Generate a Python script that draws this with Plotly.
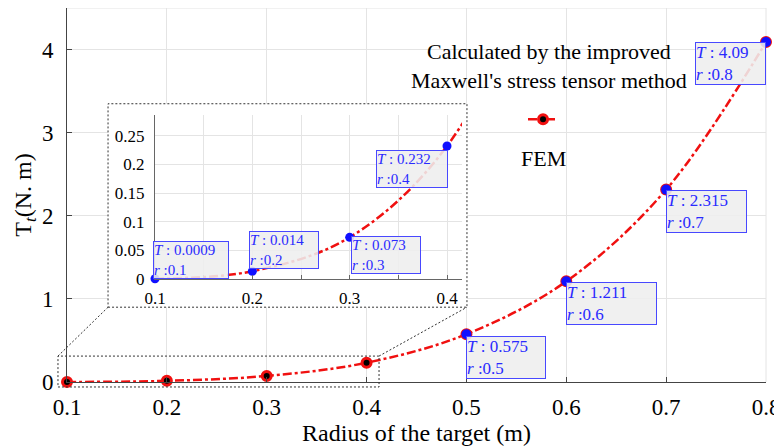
import plotly.graph_objects as go

# ---------------- data ----------------
radius = [0.1, 0.2, 0.3, 0.4, 0.5, 0.6, 0.7, 0.8]
torque = [0.0009, 0.014, 0.073, 0.232, 0.575, 1.211, 2.315, 4.09]
x_ticks = [0.1, 0.2, 0.3, 0.4, 0.5, 0.6, 0.7, 0.8]
y_ticks = [0, 1, 2, 3, 4]
inset_x_ticks = [0.1, 0.2, 0.3, 0.4]
inset_y_ticks = [0, 0.05, 0.1, 0.15, 0.2, 0.25]
main_tip_idx = [4, 5, 6, 7]
inset_tip_idx = [0, 1, 2, 3]
x_title = "Radius of the target (m)"
y_title = "T<sub><i>t</i></sub>(N. m)"
legend_top_text = "Calculated by the improved<br>Maxwell's stress tensor method"
legend_bottom_text = "FEM"

# ---------------- style ----------------
SERIF = "Liberation Serif, Times New Roman, serif"
RED = "#f01010"
BLUE = "#1010ff"
TIP_TEXT = "#2a2aff"
GRID = "#e4e4e4"
AXIS = "#444444"

# datatip box placement: (xanchor, yanchor, xshift, yshift, width)
main_tip_style = {
    4: ("left", "top", 0, -2, 78),
    5: ("left", "top", 0, -1, 89),
    6: ("left", "top", 0, 0, 79),
    7: ("right", "top", 0, 0, 69),
}
inset_tip_style = {
    0: ("left", "bottom", -2, 0, 74),
    1: ("left", "bottom", -3, 2, 68),
    2: ("left", "top", 1, 1, 68),
    3: ("right", "top", 1, -4, 70),
}

fig = go.Figure()

# main curve
fig.add_trace(go.Scatter(
    x=radius, y=torque, mode="lines+markers", name=" ",
    line=dict(color=RED, width=2.5, dash="dashdot", shape="spline", smoothing=1),
    marker=dict(color="black", size=9, line=dict(color=RED, width=3)),
    cliponaxis=False, showlegend=True, hoverinfo="skip",
))
# main datatip dots
fig.add_trace(go.Scatter(
    x=[radius[i] for i in main_tip_idx], y=[torque[i] for i in main_tip_idx],
    mode="markers", marker=dict(color=BLUE, size=10),
    cliponaxis=False, showlegend=False, hoverinfo="skip",
))
# dummy subplot used as white backing for the inset
fig.add_trace(go.Scatter(x=[], y=[], xaxis="x2", yaxis="y2", showlegend=False,
                         hoverinfo="skip"))
# inset curve
fig.add_trace(go.Scatter(
    x=radius, y=torque, mode="lines", xaxis="x3", yaxis="y3",
    line=dict(color=RED, width=2.5, dash="dashdot", shape="spline", smoothing=1),
    showlegend=False, hoverinfo="skip",
))
# inset datatip dots
fig.add_trace(go.Scatter(
    x=[radius[i] for i in inset_tip_idx], y=[torque[i] for i in inset_tip_idx],
    mode="markers", xaxis="x3", yaxis="y3",
    marker=dict(color=BLUE, size=9),
    cliponaxis=False, showlegend=False, hoverinfo="skip",
))

annotations = []
def tip(i, xref, yref, style, size):
    xa, ya, xs, ys, w = style
    annotations.append(dict(
        x=radius[i], y=torque[i], xref=xref, yref=yref,
        text=f"<i>T</i> : {torque[i]:g}<br><i>r</i> :{radius[i]:g}",
        showarrow=False, xanchor=xa, yanchor=ya, xshift=xs, yshift=ys,
        width=w, align="left", bgcolor="rgba(238,238,238,0.88)",
        bordercolor="#4848ff", borderwidth=1, borderpad=0,
        font=dict(family=SERIF, size=size, color=TIP_TEXT),
    ))

for i in main_tip_idx:
    tip(i, "x", "y", main_tip_style[i], 17)
for i in inset_tip_idx:
    tip(i, "x3", "y3", inset_tip_style[i], 15)

annotations.append(dict(
    x=0.6896, y=0.845, xref="paper", yref="paper", text=legend_top_text,
    showarrow=False, xanchor="center", yanchor="middle", align="center",
    font=dict(family=SERIF, size=22, color="black"),
))
annotations.append(dict(
    x=0.681, y=0.597, xref="paper", yref="paper", text=legend_bottom_text,
    showarrow=False, xanchor="center", yanchor="middle",
    font=dict(family=SERIF, size=22, color="black"),
))

DOT = dict(color="#333333", width=1, dash="2px,2px")
shapes = [
    # top and right frame lines (grid coloured)
    dict(type="line", xref="paper", yref="paper", x0=0, x1=1, y0=1, y1=1,
         line=dict(color=GRID, width=1), layer="below"),
    dict(type="line", xref="paper", yref="paper", x0=1, x1=1, y0=0, y1=1,
         line=dict(color=GRID, width=1), layer="below"),
    # white backing of the inset (drawn in dummy subplot above the main grid)
    dict(type="rect", xref="x2", yref="y2", x0=0, x1=1, y0=0, y1=1,
         fillcolor="white", line=dict(width=0), layer="below"),
    # inset dotted frame
    dict(type="rect", xref="paper", yref="paper", x0=0.0587, x1=0.5722, y0=0.2, y1=0.744,
         line=DOT, layer="above"),
    # zoom region rectangle
    dict(type="rect", xref="paper", yref="paper", x0=-0.0129, x1=0.4464, y0=-0.0133, y1=0.0693,
         line=DOT, layer="above"),
    # connectors
    dict(type="line", xref="paper", yref="paper", x0=-0.0129, y0=0.0693, x1=0.0587, y1=0.2,
         line=DOT, layer="above"),
    dict(type="line", xref="paper", yref="paper", x0=0.4464, y0=0.0693, x1=0.5722, y1=0.2,
         line=DOT, layer="above"),
]

# the page body adds an 8px offset, so the figure is 8px smaller on each axis
fig.update_layout(
    width=774, height=440,
    margin=dict(l=59, r=16, t=0, b=66, autoexpand=False),
    paper_bgcolor="white", plot_bgcolor="white",
    font=dict(family=SERIF, color="black"),
    showlegend=True,
    legend=dict(x=0.6524, y=0.7413, xanchor="left", yanchor="top",
                bgcolor="rgba(0,0,0,0)", font=dict(size=10), borderwidth=0),
    annotations=annotations, shapes=shapes,
    xaxis=dict(
        domain=[0, 1], range=[0.1, 0.8], tickmode="array", tickvals=x_ticks,
        ticks="inside", ticklen=5, tickcolor=AXIS, showline=True, linecolor=AXIS,
        showgrid=True, gridcolor=GRID, zeroline=False,
        tickfont=dict(family=SERIF, size=23), ticklabelstandoff=4,
        title=dict(text=x_title, font=dict(family=SERIF, size=24), standoff=4),
        anchor="y",
    ),
    yaxis=dict(
        domain=[0, 1], range=[0, 4.5], tickmode="array", tickvals=y_ticks,
        ticks="inside", ticklen=5, tickcolor=AXIS, showline=True, linecolor=AXIS,
        showgrid=True, gridcolor=GRID, zeroline=False,
        tickfont=dict(family=SERIF, size=23), ticklabelstandoff=8,
        title=dict(text=y_title, font=dict(family=SERIF, size=24), standoff=3),
        anchor="x",
    ),
    xaxis2=dict(domain=[0.0587, 0.5722], range=[0, 1], visible=False, anchor="y2",
                fixedrange=True),
    yaxis2=dict(domain=[0.2, 0.744], range=[0, 1], visible=False, anchor="x2",
                fixedrange=True),
    xaxis3=dict(
        domain=[0.1259, 0.5651], range=[0.1, 0.4154], anchor="y3",
        tickmode="array", tickvals=inset_x_ticks,
        ticks="inside", ticklen=4, tickcolor="#666666",
        showline=True, linecolor="#666666", showgrid=True, gridcolor=GRID,
        minor=dict(dtick=0.05, tick0=0.1, showgrid=True, gridcolor=GRID,
                   ticks="inside", ticklen=4, tickcolor="#666666"),
        zeroline=False, tickfont=dict(family=SERIF, size=17), ticklabelstandoff=3,
    ),
    yaxis3=dict(
        domain=[0.2747, 0.7147], range=[0, 0.2865], anchor="x3",
        tickmode="array", tickvals=inset_y_ticks,
        ticks="", showline=True, linecolor="#666666", showgrid=True, gridcolor=GRID,
        zeroline=False, tickfont=dict(family=SERIF, size=17), ticklabelstandoff=6,
    ),
)

fig.write_html("out.html")
